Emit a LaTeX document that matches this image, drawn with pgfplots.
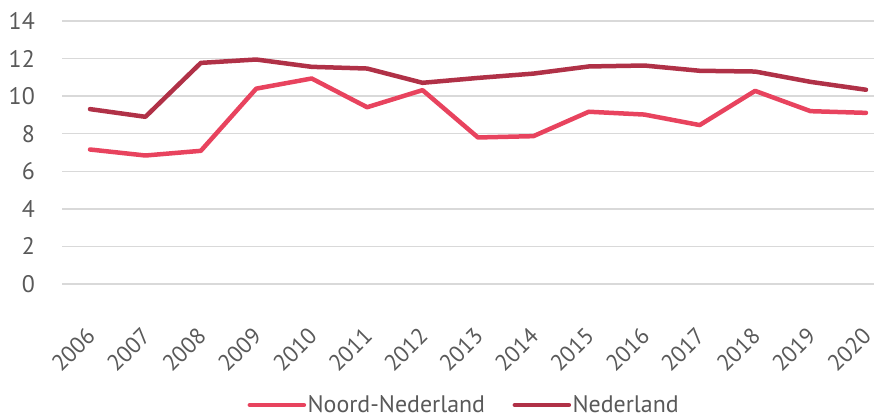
\documentclass[border=0pt]{standalone}
\usepackage{fontspec}
\setmainfont{PT Sans}
\usepackage{pgfplots}
\pgfplotsset{compat=1.18}
\definecolor{noord}{HTML}{E8435E}
\definecolor{ned}{HTML}{B03147}
\definecolor{txt}{HTML}{595959}
\definecolor{grd}{HTML}{D9D9D9}
\begin{document}
\begin{tikzpicture}
\path[use as bounding box] (-62bp,-133bp) rectangle (812bp,284bp);
\begin{axis}[
  at={(0,0)}, anchor=south west,
  scale only axis,
  width=812bp, height=263bp,
  xmin=-0.505, xmax=14.145,
  ymin=0, ymax=14,
  ytick={0,2,...,14},
  xtick={0,...,14},
  xticklabels={2006,2007,2008,2009,2010,2011,2012,2013,2014,2015,2016,2017,2018,2019,2020},
  /pgf/number format/assume math mode=true,
  axis line style={draw=none},
  major tick length=0pt,
  ymajorgrids,
  grid style={grd, line width=1.4bp},
  tick label style={font=\fontsize{24}{28}\selectfont, text=txt, inner sep=0pt},
  yticklabel style={anchor=east, xshift=-27bp},
  xticklabel style={font=\fontsize{23}{27}\selectfont, rotate=45, anchor=north east, xshift=-33bp, yshift=-26bp},
  legend columns=2,
  legend style={draw=none, at={(axis description cs:0.495,-0.46)}, anchor=center,
    font=\fontsize{24}{28}\selectfont, text=txt,
    /tikz/every even column/.append style={column sep=26bp},
    nodes={inner xsep=1.5bp}},
  legend image code/.code={\draw[#1, line cap=round] (0bp,0bp) -- (54bp,0bp);},
]
\addplot[noord, line width=4.5bp, line join=round, line cap=round] coordinates {
(0,7.16) (1,6.84) (2,7.09) (3,10.40) (4,10.94) (5,9.41) (6,10.32) (7,7.80) (8,7.87) (9,9.17) (10,9.02) (11,8.46) (12,10.28) (13,9.20) (14,9.11)};
\addlegendentry{Noord-Nederland}
\addplot[ned, line width=4.5bp, line join=round, line cap=round] coordinates {
(0,9.31) (1,8.90) (2,11.77) (3,11.95) (4,11.56) (5,11.47) (6,10.71) (7,10.97) (8,11.20) (9,11.58) (10,11.63) (11,11.35) (12,11.31) (13,10.76) (14,10.34)};
\addlegendentry{Nederland}
\end{axis}
\end{tikzpicture}
\end{document}
